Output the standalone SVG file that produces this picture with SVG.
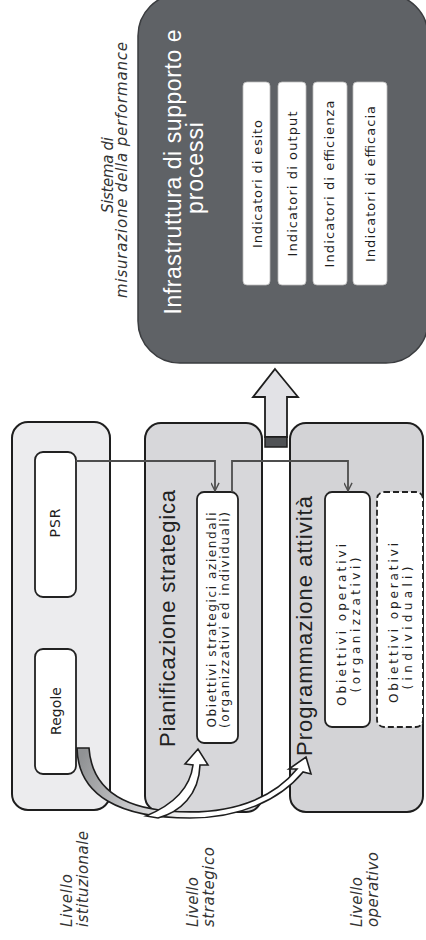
<svg xmlns="http://www.w3.org/2000/svg" width="426" height="940" viewBox="0 0 426 940">
<defs>
<style>
.col{stroke:#1e1e1e;stroke-width:2}
.box{fill:#fff;stroke:#222;stroke-width:1.8}
.ind{fill:#fff;stroke:#bbb;stroke-width:0.8}
.lab{font-family:"DejaVu Sans","Liberation Sans",sans-serif;font-style:italic;font-size:15px;fill:#333}
.ttl{font-family:"Liberation Sans","DejaVu Sans",sans-serif;font-size:22px;fill:#222}
.sm{font-family:"DejaVu Sans","Liberation Sans",sans-serif;font-size:12px;fill:#1e1e1e}
.it{font-family:"DejaVu Sans","Liberation Sans",sans-serif;font-size:13px;fill:#1e1e1e}
.conn{fill:none;stroke:#4e4e4e;stroke-width:1.8}
</style>
<marker id="ah" viewBox="0 0 10 10" refX="9" refY="5" markerWidth="12" markerHeight="9" orient="auto" markerUnits="userSpaceOnUse">
<path d="M0,0.5 L9,5 L0,9.5" fill="none" stroke="#4e4e4e" stroke-width="1.6"/>
</marker>
<linearGradient id="band" gradientUnits="userSpaceOnUse" x1="80" y1="760" x2="200" y2="815">
<stop offset="0" stop-color="#909294"/>
<stop offset="0.55" stop-color="#cfcfd1"/>
<stop offset="1" stop-color="#ffffff"/>
</linearGradient>
</defs>
<rect width="426" height="940" fill="#fff"/>

<g id="sistema-label">
<text class="lab" transform="translate(113,175) rotate(-90)" text-anchor="middle" textLength="76">Sistema di</text>
<text class="lab" transform="translate(127,170) rotate(-90)" text-anchor="middle" textLength="256">misurazione della performance</text>
</g>

<g id="infrastruttura">
<rect x="138" y="-6" width="290" height="369" rx="42" fill="#5f6266" stroke="#3a3c3f" stroke-width="1.5"/>
<text class="ttl" style="font-size:23px;fill:#fff" transform="translate(181,172) rotate(-90)" text-anchor="middle" textLength="285">Infrastruttura di supporto e</text>
<text class="ttl" style="font-size:23px;fill:#fff" transform="translate(203,168) rotate(-90)" text-anchor="middle" textLength="92">processi</text>
</g>

<g id="ind-esito">
<rect class="ind" x="243" y="82" width="27" height="203" rx="4"/>
<text class="it" transform="translate(262,184) rotate(-90)" text-anchor="middle" textLength="128">Indicatori di esito</text>
</g>
<g id="ind-output">
<rect class="ind" x="278" y="82" width="28" height="203" rx="4"/>
<text class="it" transform="translate(297,184) rotate(-90)" text-anchor="middle" textLength="145">Indicatori di output</text>
</g>
<g id="ind-efficienza">
<rect class="ind" x="313" y="82" width="34" height="203" rx="4"/>
<text class="it" transform="translate(334,184) rotate(-90)" text-anchor="middle" textLength="167">Indicatori di efficienza</text>
</g>
<g id="ind-efficacia">
<rect class="ind" x="353" y="82" width="34" height="203" rx="4"/>
<text class="it" transform="translate(375,184) rotate(-90)" text-anchor="middle" textLength="156">Indicatori di efficacia</text>
</g>

<g id="freccia-su">
<polygon points="275,369 298,397 287,397 287,437 265,437 265,397 253,397" fill="#e2e2e6" stroke="#1e1e1e" stroke-width="1.8" stroke-linejoin="miter"/>
<rect x="265" y="437" width="22" height="10" fill="#505255" stroke="#1e1e1e" stroke-width="1.5"/>
</g>

<g id="col-istituzionale">
<rect class="col" x="12" y="422" width="98" height="388" rx="16" fill="#ececee"/>
</g>
<g id="col-strategico">
<rect class="col" x="145" y="423" width="117" height="389" rx="16" fill="#d7d7da"/>
<text class="ttl" transform="translate(175,747) rotate(-90)" textLength="257">Pianificazione strategica</text>
</g>
<g id="col-operativo">
<rect class="col" x="290" y="423" width="133" height="389" rx="16" fill="#d3d3d6"/>
<text class="ttl" transform="translate(312,756) rotate(-90)" textLength="260">Programmazione attività</text>
</g>

<g id="psr">
<rect class="box" x="35" y="452" width="41" height="145" rx="8"/>
<text class="it" style="font-size:14px" transform="translate(60,523) rotate(-90)" text-anchor="middle" textLength="29">PSR</text>
</g>
<g id="regole">
<rect class="box" x="35" y="649" width="41" height="125" rx="8"/>
<text class="it" style="font-size:14px" transform="translate(61,711) rotate(-90)" text-anchor="middle" textLength="48">Regole</text>
</g>
<g id="obiettivi-strategici">
<rect class="box" x="197" y="492" width="41" height="251" rx="7"/>
<text class="sm" transform="translate(216,620) rotate(-90)" text-anchor="middle" textLength="215">Obiettivi strategici aziendali</text>
<text class="sm" transform="translate(229,620) rotate(-90)" text-anchor="middle" textLength="216">(organizzativi ed individuali)</text>
</g>
<g id="obiettivi-operativi-org">
<rect class="box" x="325" y="492" width="45" height="235" rx="7"/>
<text class="sm" transform="translate(346,625) rotate(-90)" text-anchor="middle" textLength="162">Obiettivi operativi</text>
<text class="sm" transform="translate(360,625) rotate(-90)" text-anchor="middle" textLength="135">(organizzativi)</text>
</g>
<g id="obiettivi-operativi-ind">
<rect x="377" y="492" width="46" height="235" rx="7" fill="#fff" stroke="#222" stroke-width="1.8" stroke-dasharray="6 3"/>
<text class="sm" transform="translate(398,623) rotate(-90)" text-anchor="middle" textLength="160">Obiettivi operativi</text>
<text class="sm" transform="translate(412,628) rotate(-90)" text-anchor="middle" textLength="123">(individuali)</text>
</g>

<g id="connectors">
<path class="conn" d="M76,461 H215 V491" marker-end="url(#ah)"/>
<path class="conn" d="M232,492 V461 H348 V491" marker-end="url(#ah)"/>
<path d="M77,748 C78,796 120,818 190,818 C240,818 280,800 303,772 L311,774 L306,757 L289,769 L297,769 C276,795 240,812 190,812 C128,812 92,792 89,748 Z" fill="url(#band)" stroke="#1e1e1e" stroke-width="1.6" stroke-linejoin="miter"/>
<path d="M146,816 C170,806 190,790 193,765 L185,764 L198,749 L208,765 L200,765 C199,795 180,812 158,818 Z" fill="#fff" stroke="#1e1e1e" stroke-width="1.6" stroke-linejoin="miter"/>
</g>

<g id="livelli">
<text class="lab" transform="translate(72,927) rotate(-90)" textLength="53">Livello</text>
<text class="lab" transform="translate(88,927) rotate(-90)" textLength="96">istituzionale</text>
<text class="lab" transform="translate(198,927) rotate(-90)" textLength="50">Livello</text>
<text class="lab" transform="translate(214,927) rotate(-90)" textLength="80">strategico</text>
<text class="lab" transform="translate(362,927) rotate(-90)" textLength="50">Livello</text>
<text class="lab" transform="translate(378,927) rotate(-90)" textLength="75">operativo</text>
</g>
</svg>
